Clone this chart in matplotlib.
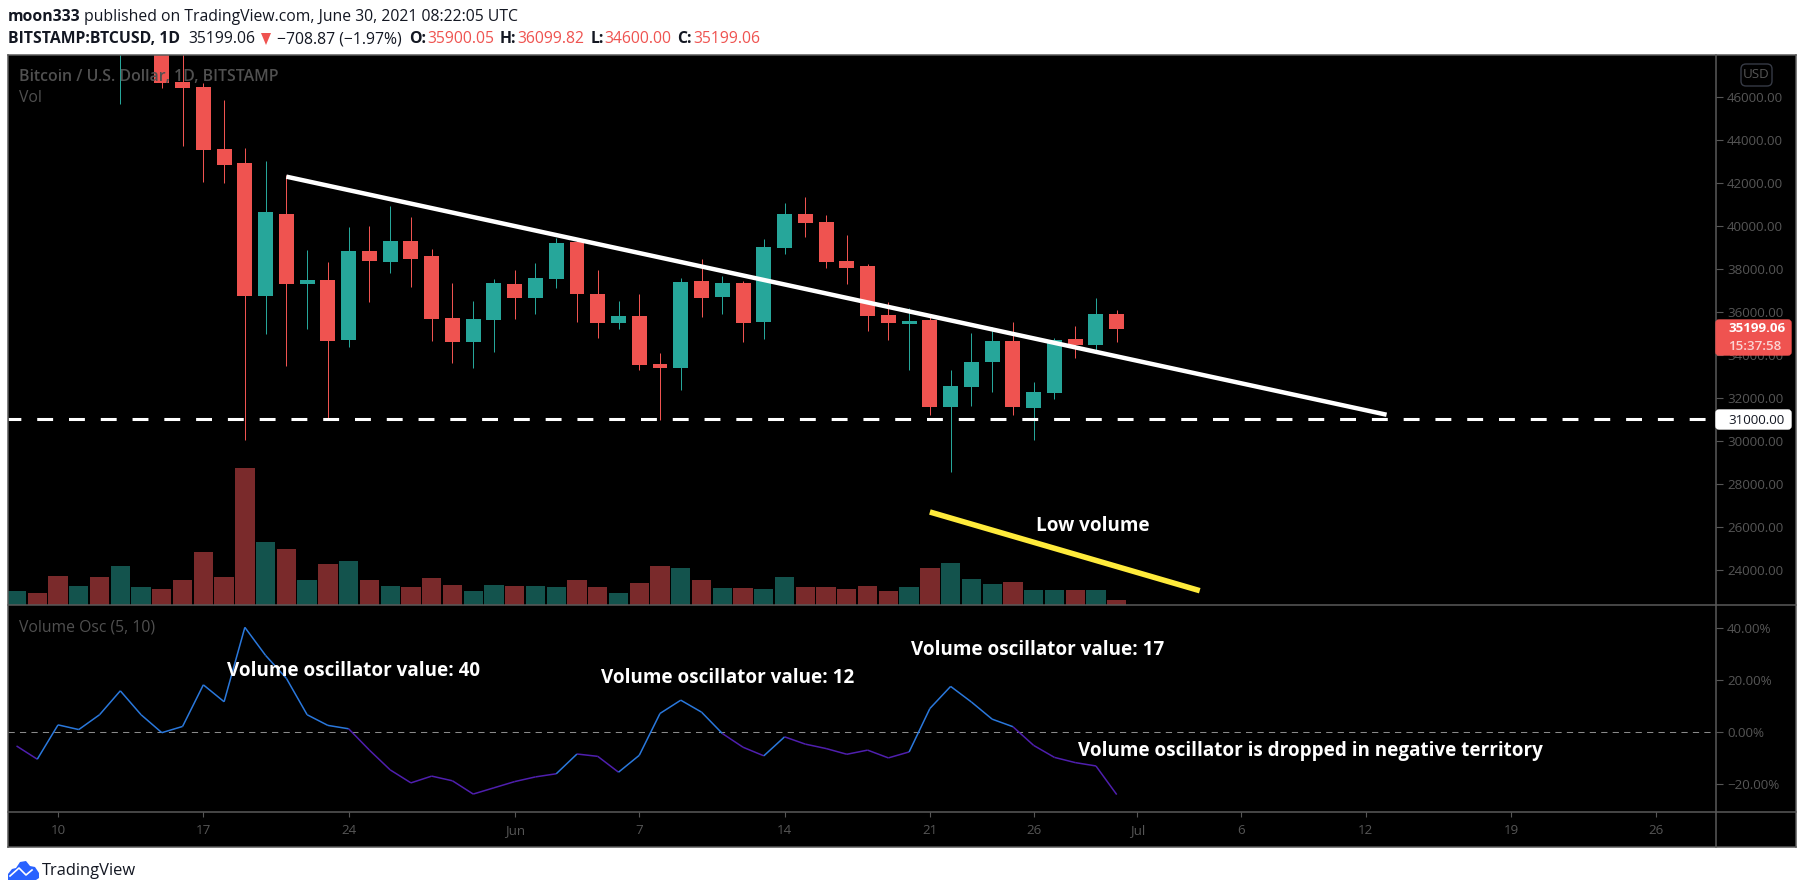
import matplotlib
matplotlib.use("Agg")
import matplotlib.pyplot as plt
import matplotlib.dates as mdates
import numpy as np
import pandas as pd
from matplotlib.collections import LineCollection
from matplotlib.lines import Line2D
from matplotlib.patches import FancyBboxPatch, Polygon
from matplotlib.transforms import IdentityTransform

W, H = 1805, 894
plt.rcParams["font.family"] = ["Open Sans", "DejaVu Sans"]

# first candles sit above the visible range, their bodies are guessed
candle_start = "2021-05-13"
opens = [49500, 49700, 49900, 46730, 46466, 43593, 42941, 36744, 40564, 37303, 37490, 34695, 38841, 38328,
         39307, 38608, 35719, 34601, 35626, 37303, 36651, 37536, 39260, 36837, 35486, 35812, 33576, 33390,
         37443, 36698, 37350, 35533, 38980, 40564, 40192, 38375, 38142, 35859, 35440, 35626, 31573, 32505,
         33669, 34648, 31527, 32225, 34741, 34461, 35900.05]
closes = [49700, 49900, 46683, 46435, 43546, 42847, 36744, 40658, 37303, 37490, 34648, 38841, 38375, 39307,
          38468, 35672, 34601, 35672, 37350, 36651, 37583, 39214, 36837, 35486, 35812, 33529, 33390, 37397,
          36651, 37350, 35486, 39027, 40564, 40145, 38328, 38049, 35812, 35486, 35580, 31573, 32551, 33669,
          34648, 31573, 32272, 34695, 34461, 35906, 35199.06]
highs = [51300, 51500, 50700, 49700, 46652, 45876, 43639, 43034, 42382, 38887, 38328, 39959, 40005, 40937,
         40425, 38934, 37350, 36511, 37536, 37955, 38282, 39446, 39400, 37955, 36511, 36837, 34089, 37583,
         38468, 37676, 37443, 39400, 41077, 41356, 40518, 39586, 38235, 36465, 36170, 35780, 33297, 35020,
         35300, 35533, 32737, 34787, 35347, 36651, 36099.82]
lows = [45690, 48800, 46435, 43733, 42055, 42009, 30035, 34974, 33483, 35207, 31060, 34368, 36465, 37816,
        37163, 34648, 33623, 33390, 34135, 35672, 35906, 37117, 35533, 34787, 35207, 33297, 30967, 32365,
        35766, 35906, 34601, 34741, 38701, 39493, 38049, 37303, 35114, 34695, 33297, 31200, 28545, 31635,
        32272, 31200, 30035, 31945, 33856, 34182, 34600.00]

# volume in thousands, estimated, starts May 8
volume_start = "2021-05-08"
volume = [6.5, 5.5, 13.2, 8.7, 12.8, 17.7, 8.3, 7.4, 11.4, 24, 12.8, 61.8, 28.5, 25.4, 11.4, 18.6, 20, 11.4,
          8.7, 8.3, 12.3, 9.2, 6.5, 9.2, 8.7, 8.7, 8.3, 11.4, 8.3, 5.5, 10, 17.7, 16.8, 11.4, 7.8, 7.8, 7.4,
          12.8, 8.3, 8.3, 7.4, 8.7, 6.5, 8.3, 16.8, 19, 11.9, 9.6, 10.5, 6.9, 6.9, 6.9, 6.9, 2.4]
volume_up = [1, 0, 0, 1, 0, 1, 1, 0, 0, 0, 0, 0, 1, 0, 1, 0, 1, 0, 1, 0, 0, 0, 1, 1, 0, 1, 1, 0, 0, 1, 0, 0,
             1, 0, 1, 0, 1, 1, 0, 0, 0, 0, 0, 1, 0, 1, 1, 1, 0, 1, 1, 0, 1, 0]
oscillator = [-5.2, -10.3, 2.9, 1.1, 6.8, 16, 6.8, -0.1, 2.3, 18.3, 11.8, 40.4, 29.6, 20.8, 6.8, 2.7, 1.4, -6.8,
              -14.4, -19.4, -16.8, -18.6, -23.7, -21.3, -18.9, -17.1, -15.9, -8.3, -9.2, -15.3, -8.8, 7.3, 12.4,
              7.8, -0.4, -5.7, -9, -1.7, -4.5, -6.2, -8.4, -6.8, -9.8, -7.5, 9.2, 17.7, 11.7, 5.1, 2.2, -5,
              -9.6, -11.6, -12.9, -23.9]

price_ticks = [46000, 44000, 42000, 40000, 38000, 36000, 34000, 32000, 30000, 28000, 26000, 24000]
osc_ticks = [40, 20, 0, -20]
time_ticks = ["2021-05-10", "2021-05-17", "2021-05-24", "2021-06-01", "2021-06-07", "2021-06-14", "2021-06-21",
              "2021-06-26", "2021-07-01", "2021-07-06", "2021-07-12", "2021-07-19", "2021-07-26"]
time_labels = ["10", "17", "24", "Jun", "7", "14", "21", "26", "Jul", "6", "12", "19", "26"]

support = 31000
white_dates = ["2021-05-21", "2021-07-13"]
white_prices = [42304, 31215]
yellow_dates = ["2021-06-21", "2021-07-04"]
yellow_prices = [26685, 23020]

RED, TEAL = "#ef5350", "#26a69a"
VOL_RED, VOL_TEAL = "#7a2a2b", "#13534d"
BORDER, FADED, TICK = "#5a5a5a", "#505050", "#565656"
INK = "#131722"


def fx(x):
    return x / W


def fy(y):
    return 1 - y / H


def panel(left, top, right, bottom):
    return fig.add_axes([fx(left), fy(bottom), (right - left) / W, (bottom - top) / H])


def label(x, y, s, **kw):
    kw.setdefault("va", "center")
    return fig.text(fx(x), fy(y), s, **kw)


def box(x0, y0, x1, y1, color, edge=None, r=3):
    fig.add_artist(FancyBboxPatch((x0, H - y1), x1 - x0, y1 - y0, boxstyle=f"round,pad=0,rounding_size={r}",
                                  fc=color, ec=edge if edge else color, lw=1, transform=IdentityTransform(), zorder=2.5))


fig = plt.figure(figsize=(W / 100, H / 100), dpi=100, facecolor="white")

ax_vol = panel(8, 55, 1716, 605)
ax = panel(8, 55, 1716, 605)
ax_osc = panel(8, 605, 1716, 812)
ax_vol.set_zorder(0)
ax.set_zorder(1)
ax.patch.set_visible(False)
ax_vol.set_facecolor("black")
ax_osc.set_facecolor("black")

xlim = (mdates.date2num(pd.Timestamp("2021-05-10")) - 2.41, mdates.date2num(pd.Timestamp("2021-05-10")) + 79.87)

# candles
x_c = mdates.date2num(pd.date_range(candle_start, periods=len(opens)))
o, c, hi, lo = map(np.array, (opens, closes, highs, lows))
col = [TEAL if b > a else RED for a, b in zip(o, c)]
ax.vlines(x_c, lo, hi, colors=col, lw=0.72, zorder=2)
ax.bar(x_c, np.abs(c - o), bottom=np.minimum(o, c), width=0.72, color=col, zorder=3)

ax.axhline(support, color="white", lw=2.2, ls=(1, (5.2, 5.2)), zorder=4)
ax.plot(pd.to_datetime(white_dates), white_prices, color="white", lw=3.2, solid_capstyle="butt", zorder=5)
ax.plot(pd.to_datetime(yellow_dates), yellow_prices, color="#ffeb3b", lw=4.0, solid_capstyle="butt", zorder=5)

ax.set_xlim(xlim)
ax.set_ylim(22353, 47970)
ax.yaxis.tick_right()
ax.set_yticks(price_ticks)
ax.set_yticklabels([f"{p:.2f}" for p in price_ticks], color=TICK, fontsize=9.6)
ax.tick_params(axis="y", length=5, width=0.8, color=TICK, pad=3)
ax.set_xticks([])
for s in ax.spines.values():
    s.set_visible(False)

# volume
x_v = mdates.date2num(pd.date_range(volume_start, periods=len(volume)))
ax_vol.bar(x_v, volume, width=0.93, color=[VOL_TEAL if u else VOL_RED for u in volume_up])
ax_vol.set_xlim(xlim)
ax_vol.set_ylim(0, 247.5)
ax_vol.set_xticks([])
ax_vol.set_yticks([])
for s in ax_vol.spines.values():
    s.set_visible(False)

# oscillator, blue when above zero or rising fast, purple otherwise
osc = np.array(oscillator)
pts = np.column_stack([x_v, osc])
segs = np.stack([pts[:-1], pts[1:]], axis=1)
seg_col = ["#2a78dc" if (a + b) / 2 > 0 or b - a > 3 else "#4f1fae" for a, b in zip(osc[:-1], osc[1:])]
ax_osc.add_collection(LineCollection(segs, colors=seg_col, linewidths=1.1, zorder=3))
ax_osc.axhline(0, color="#8a8a8a", lw=0.75, ls=(0, (6, 5)), zorder=2)
ax_osc.set_xlim(xlim)
ax_osc.set_ylim(-30.6, 49)
ax_osc.yaxis.tick_right()
ax_osc.set_yticks(osc_ticks)
ax_osc.set_yticklabels([f"{v:.2f}%".replace("-", "\u2212") for v in osc_ticks], color=TICK, fontsize=9.6)
ax_osc.tick_params(axis="y", length=5, width=0.8, color=TICK, pad=3)
ax_osc.set_xticks(mdates.date2num(pd.to_datetime(time_ticks)))
ax_osc.set_xticklabels(time_labels, color=TICK, fontsize=9.6)
ax_osc.tick_params(axis="x", length=3.5, width=0.8, color=TICK, pad=5)
for s in ax_osc.spines.values():
    s.set_visible(False)

# dark strip below the panels and to the right
fig.add_artist(plt.Rectangle((fx(8), fy(847)), (1796 - 8) / W, (847 - 55) / H, fc="black", ec="none",
                             transform=fig.transFigure, zorder=-1))

# frame and separators
for x0, y0, x1, y1 in [(8, 55, 1796, 55), (8, 605, 1796, 605), (8, 812, 1796, 812), (8, 847, 1796, 847),
                       (8, 55, 8, 847), (1796, 55, 1796, 847), (1716, 55, 1716, 847)]:
    fig.add_artist(Line2D([fx(x0), fx(x1)], [fy(y0), fy(y1)], color=BORDER, lw=1.1, zorder=2))

# price tags
box(1716, 320, 1791, 355, RED)
label(1728, 329, "35199.06", color="white", fontsize=9.6, fontweight="bold", zorder=3)
label(1728, 346, "15:37:58", color="#fbd5d4", fontsize=9.6, fontweight="semibold", zorder=3)
box(1716, 410, 1791, 429, "white")
label(1728, 420, "31000.00", color=INK, fontsize=9.6, zorder=3)
box(1741, 64, 1772, 86, "black", edge="#363a45", r=5)
label(1756.5, 75, "USD", color=TICK, fontsize=9.6, ha="center", zorder=3)

# faded legends
label(19, 77, "Bitcoin / U.S. Dollar, 1D, BITSTAMP", color=FADED, fontsize=11.4, fontweight="semibold")
label(19, 98, "Vol", color=FADED, fontsize=11.3)
label(19, 627, "Volume Osc (5, 10)", color=FADED, fontsize=11.3)

# notes on the chart
for x, y, s in [(227, 671, "Volume oscillator value: 40"), (601, 678, "Volume oscillator value: 12"),
                (911, 650, "Volume oscillator value: 17"), (1078, 751, "Volume oscillator is dropped in negative territory"),
                (1036, 526, "Low volume")]:
    label(x, y, s, color="white", fontsize=13.6, fontweight="bold")

# header
label(8, 17, "moon333", color=INK, fontsize=11.3, fontweight="bold")
label(84, 17, "published on TradingView.com, June 30, 2021 08:22:05 UTC", color=INK, fontsize=11.3)
label(8, 39, "BITSTAMP:BTCUSD, 1D", color=INK, fontsize=11.3, fontweight="bold")
label(188, 39, "35199.06", color=INK, fontsize=11.3)
fig.add_artist(Polygon([(fx(261), fy(33)), (fx(271), fy(33)), (fx(266), fy(45))], fc=RED, ec="none",
                       transform=fig.transFigure, zorder=3))
label(277, 39, "\u2212708.87 (\u22121.97%)", color=INK, fontsize=11.3)
for x, s in [(409, "O:"), (500, "H:"), (591, "L:"), (677, "C:")]:
    label(x, 39, s, color=INK, fontsize=11.3, fontweight="bold")
for x, s in [(427, "35900.05"), (517, "36099.82"), (604, "34600.00"), (693, "35199.06")]:
    label(x, 39, s, color=RED, fontsize=11.3)

# logo
cloud = [(8, 880), (8, 874), (12, 869), (16, 868), (20, 862), (26, 861), (30, 866), (35, 867), (39, 873), (39, 878),
         (36, 880)]
fig.add_artist(Polygon([(fx(a), fy(b)) for a, b in cloud], fc="#2962ff", ec="none", transform=fig.transFigure, zorder=3))
mark = [(10, 876), (19, 868), (26, 875), (32, 870)]
fig.add_artist(Line2D([fx(a) for a, b in mark], [fy(b) for a, b in mark], color="white", lw=1.2, zorder=4))
label(42, 871, "TradingView", color=INK, fontsize=11.9)

fig.savefig("out.png", dpi=100, facecolor="white")
